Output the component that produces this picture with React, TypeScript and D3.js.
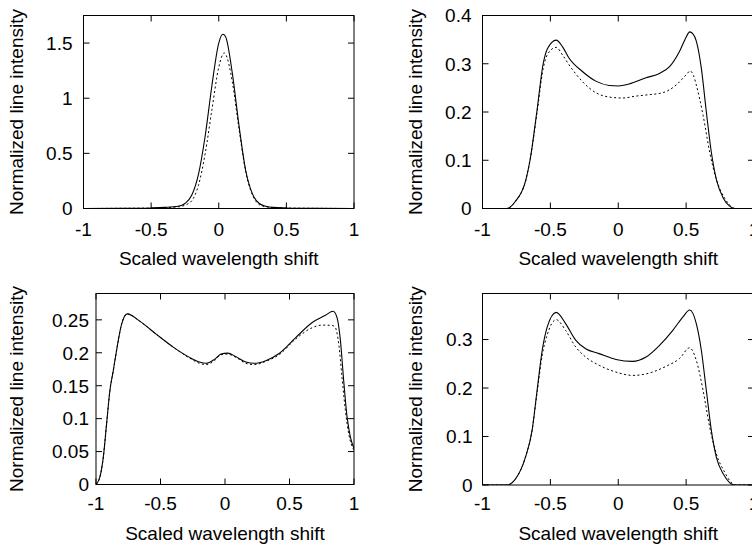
import React from "react";
import * as d3 from "d3";

// ---------- data ----------
const xTicks = [-1, -0.5, 0, 0.5, 1];

const p1X = [-1, -0.6, -0.5, -0.4, -0.3, -0.25, -0.2, -0.15, -0.1, -0.05, 0, 0.03, 0.05, 0.1, 0.15, 0.2, 0.25, 0.3, 0.35, 0.4, 0.5, 0.6, 1];
const p1Solid = [0, 0.002, 0.005, 0.01, 0.02, 0.045, 0.12, 0.31, 0.66, 1.12, 1.5, 1.58, 1.56, 1.23, 0.75, 0.34, 0.13, 0.045, 0.02, 0.01, 0.005, 0.002, 0];
const p1DX = [-1, -0.5, -0.4, -0.3, -0.25, -0.2, -0.15, -0.1, -0.05, 0, 0.04, 0.05, 0.1, 0.15, 0.2, 0.25, 0.3, 0.35, 0.4, 0.5, 1];
const p1Dashed = [0, 0.004, 0.008, 0.015, 0.03, 0.07, 0.21, 0.5, 0.9, 1.28, 1.41, 1.4, 1.15, 0.72, 0.33, 0.12, 0.035, 0.015, 0.008, 0.004, 0];
const p1YTicks = [0, 0.5, 1, 1.5];
const p1YLabels = ["0", "0.5", "1", "1.5"];

const p2X = [-1, -0.82, -0.76, -0.68, -0.65, -0.6, -0.553, -0.52, -0.457, -0.41, -0.363, -0.264, -0.165, -0.067, 0, 0.08, 0.205, 0.304, 0.378, 0.452, 0.5, 0.526, 0.55, 0.575, 0.612, 0.649, 0.686, 0.723, 0.773, 0.82, 0.86, 1];
const p2Solid = [0, 0, 0.014, 0.06, 0.1, 0.2, 0.3, 0.332, 0.349, 0.335, 0.312, 0.284, 0.264, 0.255, 0.254, 0.258, 0.271, 0.28, 0.294, 0.326, 0.355, 0.366, 0.362, 0.347, 0.291, 0.2, 0.116, 0.06, 0.022, 0.005, 0, 0];
const p2DX = [-1, -0.82, -0.76, -0.68, -0.65, -0.6, -0.553, -0.52, -0.457, -0.41, -0.363, -0.264, -0.165, -0.067, 0.032, 0.131, 0.23, 0.328, 0.427, 0.5, 0.53, 0.555, 0.575, 0.625, 0.674, 0.723, 0.785, 0.83, 0.86, 1];
const p2Dashed = [0, 0, 0.014, 0.06, 0.1, 0.195, 0.29, 0.32, 0.334, 0.318, 0.298, 0.263, 0.24, 0.231, 0.229, 0.233, 0.236, 0.24, 0.256, 0.277, 0.285, 0.275, 0.256, 0.193, 0.116, 0.06, 0.021, 0.005, 0, 0];
const p2YTicks = [0, 0.1, 0.2, 0.3, 0.4];
const p2YLabels = ["0", "0.1", "0.2", "0.3", "0.4"];

const p3X = [-1, -0.969, -0.943, -0.918, -0.892, -0.866, -0.841, -0.802, -0.758, -0.661, -0.532, -0.404, -0.275, -0.198, -0.147, -0.082, -0.031, 0.02, 0.085, 0.162, 0.226, 0.316, 0.419, 0.548, 0.676, 0.779, 0.838, 0.869, 0.895, 0.92, 0.946, 0.972, 1];
const p3Solid = [0, 0.012, 0.042, 0.092, 0.143, 0.173, 0.203, 0.243, 0.259, 0.248, 0.228, 0.209, 0.193, 0.186, 0.184, 0.19, 0.198, 0.1995, 0.194, 0.186, 0.184, 0.188, 0.199, 0.223, 0.246, 0.257, 0.263, 0.253, 0.218, 0.158, 0.103, 0.072, 0.055];
const p3DX = [-1, -0.969, -0.943, -0.918, -0.892, -0.866, -0.841, -0.802, -0.758, -0.661, -0.532, -0.404, -0.275, -0.198, -0.147, -0.082, -0.031, 0.02, 0.085, 0.162, 0.226, 0.316, 0.419, 0.548, 0.676, 0.753, 0.83, 0.856, 0.882, 0.907, 0.933, 0.959, 1];
const p3Dashed = [0, 0.012, 0.042, 0.092, 0.143, 0.173, 0.203, 0.243, 0.259, 0.248, 0.228, 0.209, 0.192, 0.184, 0.182, 0.188, 0.197, 0.198, 0.193, 0.184, 0.182, 0.187, 0.197, 0.221, 0.238, 0.242, 0.2415, 0.238, 0.213, 0.163, 0.113, 0.077, 0.052];
const p3YTicks = [0, 0.05, 0.1, 0.15, 0.2, 0.25];
const p3YLabels = ["0", "0.05", "0.1", "0.15", "0.2", "0.25"];

const p4X = [-1, -0.82, -0.758, -0.684, -0.635, -0.598, -0.56, -0.523, -0.457, -0.388, -0.314, -0.24, -0.141, -0.017, 0.106, 0.205, 0.304, 0.402, 0.477, 0.526, 0.575, 0.612, 0.649, 0.686, 0.723, 0.773, 0.82, 0.86, 1];
const p4Solid = [0, 0, 0.012, 0.057, 0.112, 0.195, 0.278, 0.326, 0.356, 0.333, 0.299, 0.281, 0.271, 0.259, 0.255, 0.264, 0.288, 0.319, 0.347, 0.361, 0.333, 0.278, 0.195, 0.112, 0.057, 0.023, 0.005, 0, 0];
const p4DX = [-1, -0.82, -0.758, -0.684, -0.635, -0.598, -0.56, -0.523, -0.457, -0.388, -0.314, -0.24, -0.141, -0.017, 0.106, 0.23, 0.353, 0.452, 0.526, 0.575, 0.625, 0.674, 0.723, 0.785, 0.83, 0.86, 1];
const p4Dashed = [0, 0, 0.012, 0.057, 0.112, 0.19, 0.268, 0.31, 0.341, 0.319, 0.285, 0.264, 0.247, 0.233, 0.226, 0.231, 0.245, 0.261, 0.283, 0.257, 0.195, 0.119, 0.064, 0.026, 0.006, 0, 0];
const p4YTicks = [0, 0.1, 0.2, 0.3];
const p4YLabels = ["0", "0.1", "0.2", "0.3"];

const xTitle = "Scaled wavelength shift";
const yTitle = "Normalized line intensity";

// ---------- layout ----------
const FONT = "'Liberation Sans', Arial, Helvetica, sans-serif";
const FS = 19;
const TICK = 6;

type Panel = {
  id: string;
  left: number; right: number; top: number; bottom: number;
  ymax: number;
  yTicks: number[]; yLabels: string[];
  sx: number[]; sy: number[]; dx: number[]; dy: number[];
  ylabGap: number;
  yTitleX: number;
  xLabY: number; xTitleY: number;
};

const panels: Panel[] = [
  { id: "p1", left: 83.5, right: 354, top: 15.5, bottom: 208.5, ymax: 1.75, yTicks: p1YTicks, yLabels: p1YLabels, sx: p1X, sy: p1Solid, dx: p1DX, dy: p1Dashed, ylabGap: 11, yTitleX: 22.5, xLabY: 235.5, xTitleY: 264.5 },
  { id: "p2", left: 482.5, right: 754, top: 15.5, bottom: 208.5, ymax: 0.4, yTicks: p2YTicks, yLabels: p2YLabels, sx: p2X, sy: p2Solid, dx: p2DX, dy: p2Dashed, ylabGap: 11, yTitleX: 421.5, xLabY: 235.5, xTitleY: 264.5 },
  { id: "p3", left: 96, right: 354, top: 293.5, bottom: 484.5, ymax: 0.29, yTicks: p3YTicks, yLabels: p3YLabels, sx: p3X, sy: p3Solid, dx: p3DX, dy: p3Dashed, ylabGap: 7, yTitleX: 22.5, xLabY: 509.5, xTitleY: 539.5 },
  { id: "p4", left: 482.5, right: 754, top: 293.5, bottom: 485, ymax: 0.395, yTicks: p4YTicks, yLabels: p4YLabels, sx: p4X, sy: p4Solid, dx: p4DX, dy: p4Dashed, ylabGap: 10, yTitleX: 421.5, xLabY: 509.5, xTitleY: 539.5 },
];

function PanelView({ p }: { p: Panel }) {
  const x = d3.scaleLinear().domain([-1, 1]).range([p.left, p.right]);
  const y = d3.scaleLinear().domain([0, p.ymax]).range([p.bottom, p.top]);
  const line = d3
    .line<[number, number]>()
    .x((d) => x(d[0]))
    .y((d) => y(d[1]))
    .curve(d3.curveMonotoneX);
  const solid = line(p.sx.map((v, i) => [v, p.sy[i]] as [number, number])) || "";
  const dashed = line(p.dx.map((v, i) => [v, p.dy[i]] as [number, number])) || "";
  const cx = (p.left + p.right) / 2;
  const cy = (p.top + p.bottom) / 2;
  return (
    <g>
      <defs>
        <clipPath id={"clip-" + p.id}>
          <rect x={p.left} y={p.top} width={p.right - p.left} height={p.bottom - p.top} />
        </clipPath>
      </defs>
      <g clipPath={`url(#clip-${p.id})`}>
        <path d={dashed} fill="none" stroke="#000" strokeWidth={1} strokeDasharray="2,2.5" />
        <path d={solid} fill="none" stroke="#000" strokeWidth={1.1} />
      </g>
      {xTicks.map((t) => (
        <g key={"xt" + t}>
          <line x1={x(t)} x2={x(t)} y1={p.bottom} y2={p.bottom - TICK} stroke="#000" />
          <line x1={x(t)} x2={x(t)} y1={p.top} y2={p.top + TICK} stroke="#000" />
          <text x={x(t)} y={p.xLabY} textAnchor="middle" fontFamily={FONT} fontSize={FS}>
            {String(t)}
          </text>
        </g>
      ))}
      {p.yTicks.map((t, i) => (
        <g key={"yt" + t}>
          <line x1={p.left} x2={p.left + TICK} y1={y(t)} y2={y(t)} stroke="#000" />
          <line x1={p.right} x2={p.right - TICK} y1={y(t)} y2={y(t)} stroke="#000" />
          <text x={p.left - p.ylabGap} y={y(t) + 6.8} textAnchor="end" fontFamily={FONT} fontSize={FS}>
            {p.yLabels[i]}
          </text>
        </g>
      ))}
      <rect x={p.left} y={p.top} width={p.right - p.left} height={p.bottom - p.top} fill="none" stroke="#000" strokeWidth={1} />
      <text x={cx} y={p.xTitleY} textAnchor="middle" fontFamily={FONT} fontSize={FS}>
        {xTitle}
      </text>
      <text
        transform={`translate(${p.yTitleX},${cy}) rotate(-90)`}
        textAnchor="middle"
        fontFamily={FONT}
        fontSize={FS}
      >
        {yTitle}
      </text>
    </g>
  );
}

export default function App() {
  return (
    <svg
      width={752}
      height={548}
      style={{ position: "absolute", left: 0, top: 0, background: "#fff" }}
    >
      <rect x={0} y={0} width={752} height={548} fill="#fff" />
      {panels.map((p) => (
        <PanelView key={p.id} p={p} />
      ))}
    </svg>
  );
}
